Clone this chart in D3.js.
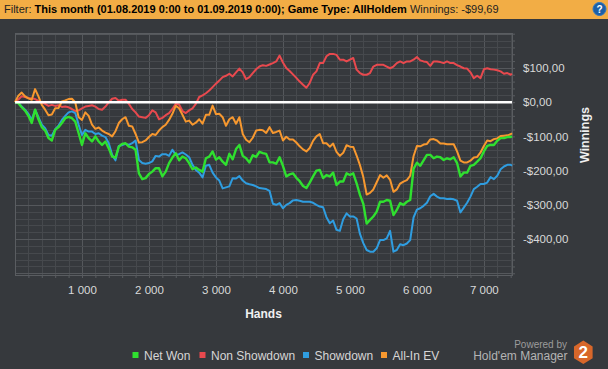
<!DOCTYPE html>
<html><head><meta charset="utf-8">
<script src="https://cdn.jsdelivr.net/npm/d3@7"></script>
<style>
html,body{margin:0;padding:0;background:#36393d;}
svg{display:block;}
text{font-family:"Liberation Sans",Arial,sans-serif;}
</style></head>
<body><svg id="c" width="608" height="369"></svg>
<script>
// Hands (x categories)
const hands = [
0,50,100,150,200,250,300,350,400,450,
500,550,600,650,700,750,800,850,900,950,
1000,1050,1100,1150,1200,1250,1300,1350,1400,1450,
1500,1550,1600,1650,1700,1750,1800,1850,1900,1950,
2000,2050,2100,2150,2200,2250,2300,2350,2400,2450,
2500,2550,2600,2650,2700,2750,2800,2850,2900,2950,
3000,3050,3100,3150,3200,3250,3300,3350,3400,3450,
3500,3550,3600,3650,3700,3750,3800,3850,3900,3950,
4000,4050,4100,4150,4200,4250,4300,4350,4400,4450,
4500,4550,4600,4650,4700,4750,4800,4850,4900,4950,
5000,5050,5100,5150,5200,5250,5300,5350,5400,5450,
5500,5550,5600,5650,5700,5750,5800,5850,5900,5950,
6000,6050,6100,6150,6200,6250,6300,6350,6400,6450,
6500,6550,6600,6650,6700,6750,6800,6850,6900,6950,
7000,7050,7100,7150,7200,7250,7300,7350,7400,7420];

const netWon = [
0,-3,-15,-25,-40,-61,-22,-50,-73,-83,
-105,-112,-81,-73,-61,-47,-43,-47,-57,-91,
-125,-91,-105,-115,-100,-115,-125,-115,-135,-159,
-162,-130,-122,-120,-130,-132,-139,-208,-225,-222,
-210,-203,-193,-193,-217,-203,-178,-162,-149,-170,
-159,-164,-178,-196,-191,-198,-203,-164,-159,-144,
-168,-161,-174,-183,-151,-167,-137,-125,-157,-164,
-176,-155,-160,-145,-149,-151,-176,-176,-180,-161,
-186,-217,-211,-208,-221,-231,-245,-251,-235,-217,
-200,-198,-222,-213,-217,-206,-242,-232,-232,-208,
-213,-208,-237,-271,-297,-355,-344,-334,-320,-291,
-291,-286,-288,-330,-315,-295,-300,-291,-286,-195,
-177,-186,-170,-154,-154,-164,-159,-161,-169,-164,
-167,-161,-178,-217,-206,-206,-186,-183,-174,-164,
-144,-128,-125,-125,-113,-105,-105,-102,-102,-99.69];

const nonShowdown = [
0,8,17,15,12,11,9,4,-1,-5,
-11,-8,-11,-9,-14,-13,-15,-20,-26,-24,
-18,-13,-11,-9,-13,-20,-22,-13,-1,10,
12,4,7,7,-5,-20,-30,-42,-44,-46,
-38,-24,-30,-50,-46,-38,-32,-20,-5,-7,
-26,-32,-24,-18,-5,15,20,26,34,44,
54,63,73,77,83,75,87,98,87,67,
73,85,96,104,108,106,110,114,119,136,
116,100,91,81,71,60,51,42,56,80,
90,114,114,134,141,141,138,124,124,119,
124,129,95,85,80,80,85,104,109,109,
109,104,99,104,114,119,114,119,119,124,
132,122,119,117,106,119,119,117,114,119,
114,114,108,104,99,98,87,70,77,70,
96,99,96,95,93,90,83,85,80,83];

const showdown = [
0,-1,-13,-22,-34,-52,-22,-44,-66,-76,
-96,-98,-79,-69,-52,-40,-30,-27,-32,-66,
-96,-81,-86,-86,-93,-91,-98,-102,-120,-154,
-170,-128,-125,-122,-125,-120,-112,-169,-178,-180,
-178,-173,-157,-159,-152,-152,-157,-139,-154,-152,
-147,-153,-161,-183,-198,-206,-220,-186,-183,-206,
-220,-229,-252,-249,-246,-222,-223,-216,-229,-237,
-240,-242,-246,-251,-252,-254,-259,-297,-300,-295,
-310,-300,-295,-287,-286,-288,-291,-291,-291,-294,
-300,-305,-307,-336,-354,-346,-373,-376,-342,-325,
-334,-334,-340,-385,-412,-432,-437,-437,-427,-403,
-403,-398,-376,-437,-432,-415,-418,-413,-403,-337,
-314,-310,-303,-294,-275,-268,-276,-281,-281,-283,
-282,-284,-288,-322,-308,-294,-276,-254,-247,-239,
-239,-235,-219,-225,-215,-196,-188,-183,-183,-186];

const allInEV = [
0,19,28,17,11,7,38,17,-8,-22,
-38,-36,-18,-17,2,5,9,10,-1,-44,
-52,-30,-40,-66,-78,-74,-83,-89,-93,-100,
-85,-61,-50,-44,-69,-71,-93,-118,-117,-112,
-102,-93,-96,-83,-73,-66,-52,-34,-11,-18,
-37,-57,-54,-66,-60,-50,-63,-37,-37,-10,
-35,-34,-44,-69,-50,-44,-63,-44,-93,-110,
-117,-104,-83,-81,-82,-90,-73,-90,-87,-83,
-112,-101,-109,-109,-118,-129,-138,-144,-134,-113,
-100,-93,-120,-120,-130,-121,-145,-157,-148,-126,
-130,-131,-156,-184,-219,-270,-265,-255,-234,-213,
-221,-214,-227,-262,-255,-238,-232,-228,-215,-158,
-128,-129,-124,-122,-109,-108,-112,-121,-121,-123,
-123,-123,-144,-171,-176,-176,-171,-162,-160,-147,
-128,-112,-114,-108,-106,-99,-98,-97,-94,-91];

const seriesNames = ["Net Won","Non Showdown","Showdown","All-In EV"];
const seriesColors = ["#2fe02f","#e8494e","#2f9de0","#f7982f"];
const xTickLabels = [1000,2000,3000,4000,5000,6000,7000];
const yTickLabels = [100,0,-100,-200,-300,-400];

const svg = d3.select("#c");
svg.append("rect").attr("width",608).attr("height",369).attr("fill","#36393d");

// header
svg.append("rect").attr("width",608).attr("height",19).attr("fill","#f2ad45");
const ht = svg.append("text").attr("x",4).attr("y",13).attr("font-size",11).attr("fill","#222");
ht.append("tspan").text("Filter: ");
ht.append("tspan").attr("font-weight","bold").attr("fill","#000").text("This month (01.08.2019 0:00 to 01.09.2019 0:00); Game Type: AllHoldem");
ht.append("tspan").text(" Winnings: -$99,69");
svg.append("circle").attr("cx",599.5).attr("cy",9).attr("r",6.5).attr("fill","#1c5fa6").attr("stroke","#2f76c0").attr("stroke-width",1);
svg.append("text").attr("x",599.5).attr("y",12.5).attr("text-anchor","middle").attr("font-size",10).attr("font-weight","bold").attr("fill","#fff").text("?");

const L=15,R=512,T=33,B=275;
const x = d3.scaleLinear().domain([0,7420]).range([L,R]);
const y = d3.scaleLinear().domain([-505,202]).range([B,T]);

// grid
const g = svg.append("g");
g.selectAll(".vx").data(d3.range(0,7421,200)).join("line")
 .attr("x1",d=>Math.round(x(d))+0.5).attr("x2",d=>Math.round(x(d))+0.5).attr("y1",T).attr("y2",B)
 .attr("stroke",d=>d%1000===0?"#55585c":"#46494d").attr("stroke-width",1);
g.selectAll(".hy").data(d3.range(-500,201,20)).join("line")
 .attr("y1",d=>Math.round(y(d))+0.5).attr("y2",d=>Math.round(y(d))+0.5).attr("x1",L).attr("x2",R)
 .attr("stroke",d=>d%100===0?"#55585c":"#46494d").attr("stroke-width",1);
g.append("rect").attr("x",L+0.5).attr("y",T+0.5).attr("width",R-L).attr("height",B-T)
 .attr("fill","none").attr("stroke","#5a5d61");

// minor ticks
const xm = svg.append("g").attr("transform",`translate(0,${B})`)
 .call(d3.axisBottom(x).tickValues(d3.range(200,7421,200)).tickSize(3).tickFormat(""));
const ym = svg.append("g").attr("transform",`translate(${R},0)`)
 .call(d3.axisRight(y).tickValues(d3.range(-500,201,20)).tickSize(3).tickFormat(""));
[xm,ym].forEach(a=>{a.select(".domain").remove();a.selectAll("line").attr("stroke","#5a5d61");});

// labelled axes
const loc = d3.formatLocale({decimal:",",thousands:" ",grouping:[3],currency:["$",""]});
const fx = loc.format(",");
const xa = svg.append("g").attr("transform",`translate(0,${B})`)
 .call(d3.axisBottom(x).tickValues(xTickLabels).tickSize(0).tickPadding(11).tickFormat(fx));
const ya = svg.append("g").attr("transform",`translate(${R},0)`)
 .call(d3.axisRight(y).tickValues(yTickLabels).tickSize(0).tickPadding(11)
   .tickFormat(v=>(v<0?"-":"")+"$"+Math.abs(v)+",00"));
[xa,ya].forEach(a=>{a.select(".domain").remove();
 a.selectAll("text").attr("font-family","Liberation Sans, Arial, sans-serif").attr("font-size",11.5).attr("fill","#d9d9d9");});

// series lines
const series = [nonShowdown, showdown, allInEV, netWon];
const idx = [1,2,3,0];
const line = d3.line().x((d,i)=>x(hands[i])).y(d=>y(d));
svg.append("g").selectAll("path").data(series).join("path")
 .attr("d",d=>line(d)).attr("fill","none")
 .attr("stroke",(d,i)=>seriesColors[idx[i]])
 .attr("stroke-width",(d,i)=>idx[i]===0?2.4:2)
 .attr("stroke-linejoin","round");

// zero line
svg.append("line").attr("x1",L).attr("x2",R).attr("y1",y(0)).attr("y2",y(0))
 .attr("stroke","#ffffff").attr("stroke-width",2.5);

// axis titles
svg.append("text").attr("x",(L+R)/2).attr("y",318).attr("text-anchor","middle")
 .attr("font-size",12).attr("font-weight","bold").attr("fill","#f0f0f0").text("Hands");
svg.append("text").attr("transform","translate(589,135) rotate(-90)").attr("text-anchor","middle")
 .attr("font-size",12.5).attr("font-weight","bold").attr("fill","#f0f0f0").text("Winnings");

// legend
const legX = [132.5,199.5,303,381];
const lg = svg.append("g").selectAll("g").data(seriesNames).join("g")
 .attr("transform",(d,i)=>`translate(${legX[i]},352)`);
lg.append("rect").attr("width",6).attr("height",6).attr("fill",(d,i)=>seriesColors[i]);
lg.append("text").attr("x",11.5).attr("y",7.5).attr("font-size",12).attr("fill","#d6d6d6").text(d=>d);

// branding
svg.append("text").attr("x",567).attr("y",347.5).attr("text-anchor","end").attr("font-size",10).attr("fill","#9c9c9c").text("Powered by");
svg.append("text").attr("x",567.5).attr("y",360).attr("text-anchor","end").attr("font-size",12).attr("fill","#b4b4b4").text("Hold'em Manager");
const hx=583.3, hy=352.3, hr=11.7;
const hex = d3.range(6).map(k=>{const a=Math.PI/3*k-Math.PI/2;return [hx+hr*Math.cos(a)*0.92, hy+hr*Math.sin(a)];});
svg.append("polygon").attr("points",hex.map(p=>p.join(",")).join(" ")).attr("fill","#d8672a");
svg.append("text").attr("x",hx).attr("y",hy+6).attr("text-anchor","middle").attr("font-size",17).attr("font-weight","bold").attr("fill","#ffffff").text("2");
</script></body></html>
